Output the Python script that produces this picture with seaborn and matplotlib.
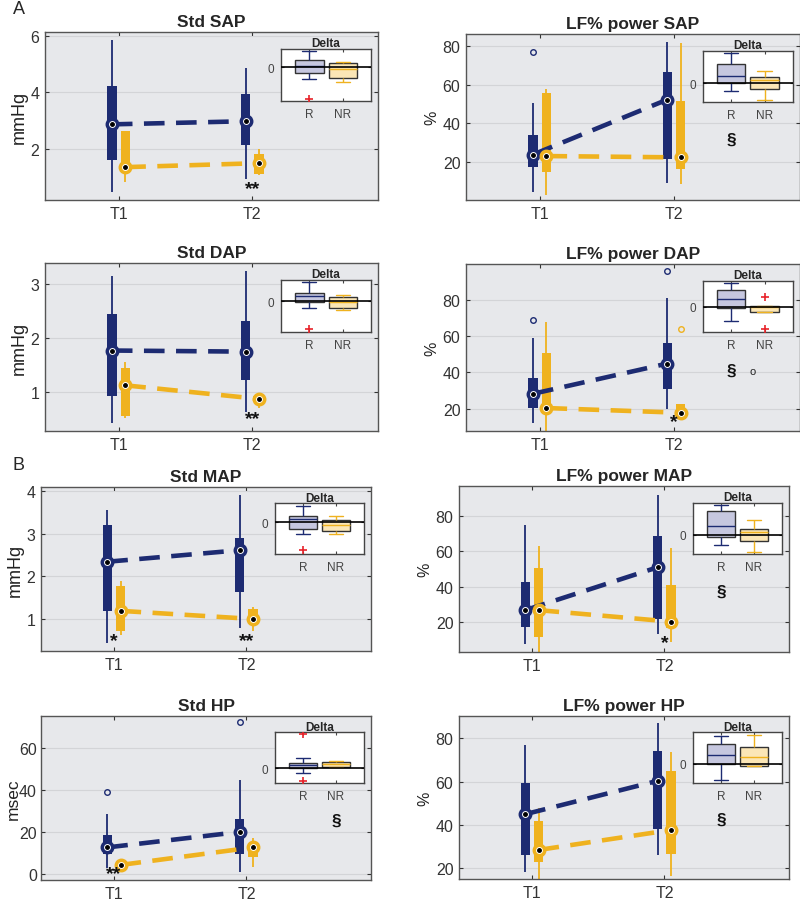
import matplotlib
matplotlib.use("Agg")
import matplotlib.pyplot as plt
import matplotlib.transforms as mtransforms
import pandas as pd
import seaborn as sns

# ---- values ----
titles = ["Std SAP", "LF% power SAP", "Std DAP", "LF% power DAP",
          "Std MAP", "LF% power MAP", "Std HP", "LF% power HP"]
ylabels = ["mmHg", "%", "mmHg", "%", "mmHg", "%", "msec", "%"]
times = ["T1", "T2"]
groups = ["R", "NR"]

# five-number summaries: [low whisker, q1, median, q3, high whisker]
R_T1 = [[0.48, 1.62, 2.87, 4.22, 5.84], [4.2, 17.2, 23.7, 34.0, 50.4],
        [0.43, 0.94, 1.77, 2.45, 3.14], [11.8, 20.1, 28.2, 36.7, 58.9],
        [0.44, 1.18, 2.34, 3.20, 3.55], [7.3, 17.2, 26.7, 42.4, 75.0],
        [2.9, 9.3, 12.6, 18.5, 28.7], [18.5, 26.2, 45.0, 59.3, 77.0]]
R_T2 = [[0.95, 2.13, 2.98, 3.93, 4.87], [9.0, 21.5, 52.3, 66.9, 82.5],
        [0.64, 1.23, 1.75, 2.31, 3.23], [19.6, 30.6, 44.9, 56.1, 81.4],
        [0.80, 1.63, 2.61, 2.90, 3.91], [13.0, 21.5, 51.0, 68.6, 92.1],
        [0.8, 9.6, 20.0, 26.0, 44.7], [26.2, 38.1, 60.4, 74.2, 87.0]]
NR_T1 = [[0.84, 1.32, 1.36, 2.65, 2.65], [2.4, 14.6, 22.9, 55.6, 57.9],
         [0.53, 0.56, 1.13, 1.45, 1.55], [5.0, 19.5, 20.3, 50.6, 67.9],
         [0.62, 0.73, 1.19, 1.77, 1.89], [2.0, 11.7, 26.7, 50.4, 63.3],
         [3.0, 3.5, 4.2, 5.0, 5.5], [14.0, 22.8, 28.5, 41.7, 48.0]]
NR_T2 = [[1.10, 1.13, 1.50, 1.81, 1.99], [8.1, 16.1, 22.2, 51.8, 81.8],
         [0.72, 0.83, 0.88, 0.93, 0.93], [15.0, 15.9, 17.7, 22.3, 22.3],
         [0.73, 0.93, 1.00, 1.24, 1.28], [8.6, 16.8, 20.2, 41.1, 61.8],
         [3.2, 8.0, 12.6, 14.8, 16.9], [16.6, 26.6, 37.7, 65.0, 73.7]]

# outliers (time, value)
R_out = [[], [("T1", 77.0)], [], [("T1", 69.0), ("T2", 96.2)],
         [], [], [("T1", 39.0), ("T2", 72.6)], []]
NR_out = [[], [], [], [("T2", 64.2)], [], [], [], []]

# significance marks (time, label, value)
stars = [[("T2", "**", 0.6)], [], [("T2", "**", 0.52)], [("T2", "*", 13.0)],
         [("T1", "*", 0.5), ("T2", "**", 0.5)], [("T2", "*", 8.6)],
         [("T1", "**", 0.0)], []]

ylims = [(0.2, 6.13), (0, 86.5), (0.29, 3.38), (7.6, 100),
         (0.25, 4.09), (3, 97), (-3, 75.5), (15.1, 90.3)]
yticks = [[2, 4, 6], [20, 40, 60, 80], [1, 2, 3], [20, 40, 60, 80],
          [1, 2, 3, 4], [20, 40, 60, 80], [0, 20, 40, 60], [20, 40, 60, 80]]

# Delta insets (arbitrary units, zero = no change)
delta_R = [[-3.5, -1.8, 0.2, 1.9, 4.7], [-2.5, 0.0, 2.1, 5.8, 9.0],
           [-1.9, -0.2, 1.6, 2.6, 5.7], [-4.4, -0.4, 2.3, 4.9, 7.1],
           [-3.4, -2.0, 1.1, 2.1, 5.1], [-2.9, -0.5, 2.5, 7.0, 9.0],
           [-1.3, 0.2, 1.0, 1.7, 3.2], [-5.0, 0.0, 2.5, 5.7, 8.2]]
delta_NR = [[-4.2, -3.0, -0.5, 1.2, 1.5], [-5.0, -1.7, 1.0, 1.8, 3.7],
            [-2.6, -2.1, -0.3, 1.2, 1.9], [-1.6, -1.6, 0.0, 0.2, 0.2],
            [-3.4, -2.7, -0.7, 0.6, 2.0], [-5.0, -1.9, 0.8, 1.8, 4.3],
            [0.5, 0.5, 1.4, 2.0, 2.2], [-0.8, -0.8, 2.0, 5.0, 8.5]]
delta_R_out = [[-9.0], [], [-8.3], [], [-8.5], [], [10.5, -3.8], []]
delta_NR_out = [[], [], [], [2.9, -6.8], [], [], [], []]
delta_ylim = [(-9.6, 5.2), (-5.7, 9.7), (-9.1, 6.4), (-7.7, 7.8),
              (-9.7, 5.8), (-5.7, 9.6), (-4.5, 11.0), (-5.7, 9.3)]
section_mark = [None, "R", None, "R", None, "R", "NR", "R"]

# ---- style ----
NAVY = "#1d2b72"
GOLD = "#efb21f"
colors = {"R": NAVY, "NR": GOLD}
light = {"R": "#c6c7df", "NR": "#fbe6b6"}

sns.set_style("ticks")
plt.rcParams["font.family"] = ["Liberation Sans", "DejaVu Sans"]

# axes rectangles in pixels: left, top, right, bottom
boxes_px = [(45, 33, 378, 201), (466, 35, 800, 201),
            (45, 264, 378, 432), (466, 265, 800, 432),
            (41, 488, 371, 652), (459, 487, 789, 653),
            (41, 717, 371, 881), (459, 717, 789, 880)]
FW, FH = 800, 903

fig = plt.figure(figsize=(8, 9.03), dpi=100)

W, GAP = 0.2, 0.3
off = {"R": -W / 4, "NR": W / 4}


def long_frame(i):
    rows = []
    for g, t, summ in [("R", "T1", R_T1[i]), ("R", "T2", R_T2[i]),
                       ("NR", "T1", NR_T1[i]), ("NR", "T2", NR_T2[i])]:
        for v in summ:
            rows.append({"time": t, "group": g, "value": v})
    return pd.DataFrame(rows)


for i in range(8):
    l, t, r, b = boxes_px[i]
    ax = fig.add_axes([l / FW, 1 - b / FH, (r - l) / FW, (b - t) / FH])
    ax.set_facecolor("#e7e8eb")
    df = long_frame(i)
    meds = {"R": [R_T1[i][2], R_T2[i][2]], "NR": [NR_T1[i][2], NR_T2[i][2]]}

    for g in groups:
        sns.boxplot(data=df[df["group"] == g], x="time", y="value", hue="group",
                    order=times, hue_order=groups, palette=colors, dodge=True,
                    width=W, gap=GAP, whis=(0, 100), saturation=1,
                    linecolor=colors[g], linewidth=1.3, showfliers=False,
                    legend=False, ax=ax, boxprops=dict(linewidth=0),
                    medianprops=dict(visible=False), capprops=dict(visible=False))

    for g in groups:
        xs = [k + off[g] for k in range(2)]
        ax.plot(xs, meds[g], ls=(0, (4.5, 2.5)), lw=3.3, color=colors[g], zorder=4)
        ax.plot(xs, meds[g], ls="none", marker="o", ms=7.5, mfc="white",
                mec=colors[g], mew=2.5, zorder=5)
        ax.plot(xs, meds[g], ls="none", marker="o", ms=2.5, color="black", zorder=6)

    for g, outs in [("R", R_out[i]), ("NR", NR_out[i])]:
        for tm, v in outs:
            ax.plot(times.index(tm) + off[g], v, ls="none", marker="o", ms=4,
                    mfc="none", mec=colors[g], mew=1, zorder=5)

    for tm, lab, v in stars[i]:
        ax.text(times.index(tm), v, lab, ha="center", va="center", fontsize=14,
                fontweight="bold", color="#111111", zorder=7)

    ax.set_xlim(-0.55, 1.94)
    ax.set_ylim(*ylims[i])
    ax.set_yticks(yticks[i])
    ax.set_xticks([0, 1])
    ax.set_xticklabels(times)
    ax.set_xlabel("")
    if ylabels[i] == "%":
        ax.set_ylabel("%", fontsize=11.5, color="#222222", labelpad=2)
    elif ylabels[i] == "msec":
        ax.set_ylabel("msec", fontsize=12.5, color="#222222", labelpad=-1)
    else:
        ax.set_ylabel(ylabels[i], fontsize=13, color="#222222", labelpad=2)
    ax.set_title(titles[i], fontsize=12.5, fontweight="bold", pad=4)
    ax.yaxis.grid(True, color="#d3d4d7", lw=0.8)
    ax.set_axisbelow(True)
    ax.tick_params(direction="in", length=3, top=True, right=True,
                   labelsize=11.5, colors="#333333", pad=4)
    if ylabels[i] == "msec":
        ax.tick_params(axis="y", pad=3)
    for s in ax.spines.values():
        s.set_color("#555555")
        s.set_linewidth(1.0)

    # Delta inset
    ins = ax.inset_axes([0.709, 0.59, 0.27, 0.31])
    ins.set_facecolor("white")
    dd = pd.DataFrame({"group": ["R"] * 5 + ["NR"] * 5,
                       "value": delta_R[i] + delta_NR[i]})
    for g in groups:
        sns.boxplot(data=dd[dd["group"] == g], x="group", y="value", hue="group",
                    order=groups, hue_order=groups, palette=light, dodge=False,
                    width=0.85, whis=(0, 100), saturation=1, linecolor=colors[g],
                    linewidth=1.0, showfliers=False, legend=False, ax=ins,
                    boxprops=dict(edgecolor="#333333", linewidth=1.0))
    ins.axhline(0, color="black", lw=1.2, zorder=6)
    for g, outs in [("R", delta_R_out[i]), ("NR", delta_NR_out[i])]:
        for v in outs:
            ins.plot(groups.index(g), v, ls="none", marker="+", ms=6,
                     mew=1.2, color="#e8232a", zorder=7)
    ins.set_xlim(-0.85, 1.85)
    ins.set_ylim(*delta_ylim[i])
    ins.set_yticks([0])
    ins.set_xticks([0, 1])
    ins.set_xticklabels(groups)
    ins.set_xlabel("")
    ins.set_ylabel("")
    ins.set_title("Delta", fontsize=8.5, fontweight="bold", pad=2)
    ins.tick_params(direction="in", length=2, top=True, right=True,
                    labelsize=8.5, colors="#444444", pad=5)
    for s in ins.spines.values():
        s.set_color("#444444")
        s.set_linewidth(1.0)

    if section_mark[i] is not None:
        tr = mtransforms.blended_transform_factory(ins.transData, ins.transAxes)
        ins.text(groups.index(section_mark[i]), -0.72, "§", transform=tr,
                 ha="center", va="center", fontsize=12.5, fontweight="bold",
                 color="#111111", clip_on=False)
        if i == 3:
            ins.text(0.65, -0.74, "o", transform=tr, ha="center", va="center",
                     fontsize=8, color="#222222", clip_on=False)

fig.text(13 / FW, 1 - 9 / FH, "A", fontsize=13, va="center", ha="left")
fig.text(13 / FW, 1 - 466 / FH, "B", fontsize=13, va="center", ha="left")

fig.savefig("out.png", dpi=100, facecolor="white")
